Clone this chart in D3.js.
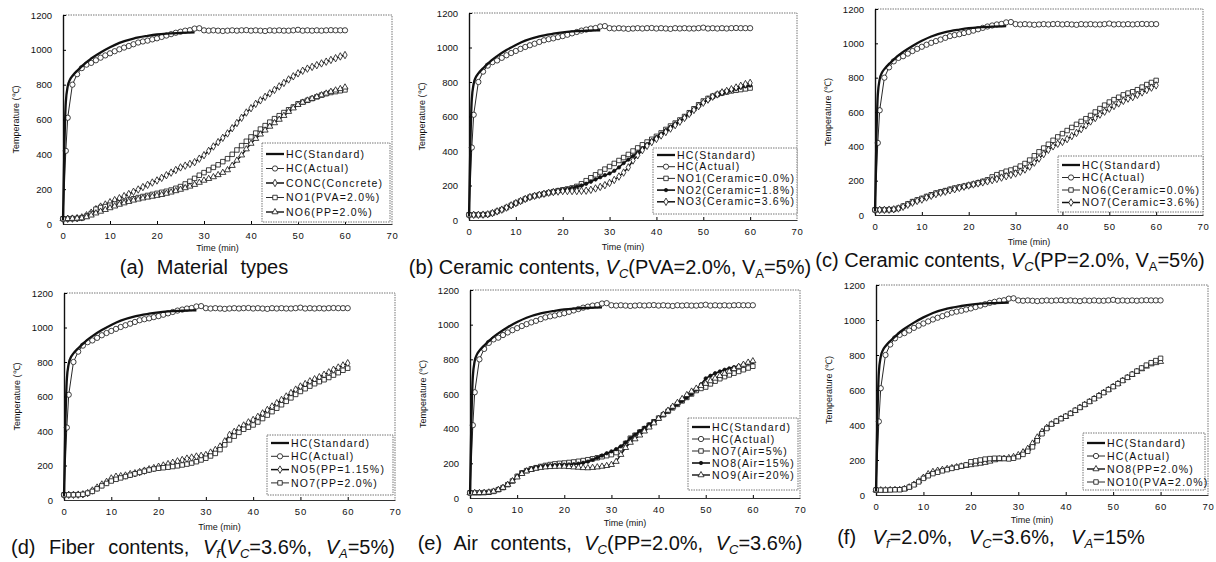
<!DOCTYPE html>
<html>
<head>
<meta charset="utf-8">
<script src="https://cdn.jsdelivr.net/npm/d3@7"></script>
<style>
  body { margin: 0; background: #fff; }
  text { font-family: "Liberation Sans", Arial, sans-serif; fill: #111; }
</style>
</head>
<body>
<svg id="fig" width="1216" height="562"></svg>
<script>
// ---- data ----
const timeTicks = [0, 10, 20, 30, 40, 50, 60, 70];
const tempTicks = [0, 200, 400, 600, 800, 1000, 1200];
const minutes = d3.range(0, 61);

const hcStdTime = [0, 0.3, 0.6, 1, 1.5, 2, 3, 4, 5, 6, 8, 10, 12, 15, 18, 20, 22, 25, 28, 30, 35, 40, 45, 50, 55, 60];
const hcStdTemp = [20, 450, 700, 790, 830, 850, 880, 905, 930, 950, 985, 1015, 1040, 1065, 1080, 1088, 1093, 1097, 1100, 1100, 1100, 1100, 1100, 1100, 1100, 1100];

const hcActTime = [0, 0.6, 1, 2].concat(d3.range(3, 61));
const hcActTemp = [30, 420, 610, 800,
  860, 895, 915, 925, 940, 955, 968, 980, 992, 1003,
  1013, 1022, 1032, 1042, 1048, 1053, 1060, 1066, 1074, 1082,
  1090, 1098, 1104, 1110, 1113, 1122, 1124, 1112, 1110, 1112,
  1110, 1108, 1110, 1112, 1110, 1112, 1113, 1110, 1112, 1110,
  1108, 1112, 1110, 1112, 1110, 1110, 1112, 1115, 1110, 1112,
  1110, 1112, 1110, 1112, 1113, 1112, 1112, 1112];

const aConc = [30, 30, 31, 33, 38, 50, 65, 85, 100, 112,
  125, 137, 148, 160, 172, 185, 198, 212, 225, 238,
  250, 265, 280, 295, 310, 325, 335, 345, 355, 375,
  395, 420, 445, 470, 495, 520, 550, 580, 610, 640,
  665, 690, 710, 730, 750, 770, 790, 810, 830, 848,
  865, 880, 892, 902, 912, 922, 932, 942, 952, 962, 970];
const aNo1 = [30, 30, 31, 32, 35, 45, 60, 85, 95, 100,
  108, 115, 122, 130, 138, 145, 152, 158, 164, 170,
  176, 182, 188, 195, 205, 215, 230, 245, 262, 280,
  295, 310, 325, 340, 358, 375, 400, 425, 450, 475,
  500, 522, 545, 565, 585, 605, 622, 640, 656, 672,
  690, 700, 710, 720, 730, 740, 748, 755, 760, 765, 770];
const aNo6 = [30, 30, 31, 32, 34, 40, 50, 62, 72, 82,
  92, 102, 112, 120, 128, 136, 142, 148, 153, 158,
  163, 168, 175, 182, 190, 198, 207, 216, 226, 238,
  250, 260, 270, 282, 295, 310, 335, 365, 395, 430,
  462, 490, 515, 538, 560, 580, 600, 622, 645, 665,
  685, 698, 710, 720, 730, 740, 750, 760, 768, 776, 785];

const bNo1 = [30, 30, 30, 31, 33, 40, 50, 60, 72, 85,
  98, 110, 122, 133, 140, 146, 152, 158, 164, 170,
  175, 180, 186, 195, 210, 228, 245, 262, 278, 295,
  310, 328, 345, 362, 380, 400, 418, 436, 452, 468,
  485, 505, 525, 545, 562, 580, 600, 622, 645, 668,
  690, 705, 718, 728, 736, 742, 748, 752, 756, 760, 765];
const bNo2 = [30, 30, 30, 31, 33, 40, 50, 60, 72, 85,
  98, 110, 122, 133, 140, 146, 152, 158, 164, 170,
  175, 180, 186, 193, 200, 210, 222, 235, 248, 260,
  270, 285, 305, 330, 350, 370, 392, 415, 438, 460,
  480, 500, 520, 540, 558, 575, 595, 618, 640, 660,
  680, 695, 710, 722, 732, 742, 752, 760, 768, 775, 780];
const bNo3 = [30, 30, 30, 31, 33, 40, 50, 60, 72, 85,
  98, 110, 122, 133, 140, 146, 152, 158, 162, 165,
  168, 168, 168, 168, 169, 170, 175, 183, 192, 202,
  215, 232, 252, 275, 305, 345, 375, 405, 430, 452,
  470, 490, 510, 530, 550, 570, 592, 615, 638, 660,
  680, 698, 715, 728, 740, 748, 758, 768, 778, 788, 795];

const cNo6 = [30, 30, 30, 31, 33, 40, 52, 65, 78, 88,
  97, 108, 118, 128, 135, 142, 150, 157, 163, 168,
  174, 180, 188, 196, 205, 222, 235, 245, 255, 262,
  271, 285, 300, 320, 345, 368, 390, 412, 435, 455,
  474, 492, 510, 528, 545, 561, 580, 600, 620, 640,
  658, 672, 686, 700, 710, 718, 730, 745, 760, 772, 784];
const cNo7 = [30, 30, 30, 31, 33, 38, 48, 60, 72, 82,
  90, 102, 112, 122, 130, 136, 144, 150, 158, 165,
  172, 178, 184, 190, 196, 203, 210, 218, 226, 234,
  242, 252, 265, 282, 305, 329, 355, 380, 400, 415,
  426, 442, 460, 478, 500, 522, 545, 565, 585, 602,
  619, 635, 650, 665, 678, 687, 700, 714, 728, 742, 755];

const dNo5 = [30, 30, 30, 31, 33, 40, 55, 72, 90, 105,
  125, 135, 138, 142, 150, 155, 162, 170, 178, 185,
  193, 200, 208, 216, 224, 232, 240, 246, 252, 256,
  261, 275, 290, 310, 340, 377, 395, 415, 432, 450,
  464, 482, 502, 522, 542, 561, 580, 600, 620, 640,
  658, 672, 688, 700, 712, 726, 740, 755, 768, 780, 793];
const dNo7 = [30, 30, 30, 31, 33, 40, 50, 65, 82, 96,
  110, 120, 128, 136, 144, 152, 160, 167, 174, 180,
  184, 187, 190, 194, 198, 203, 208, 214, 222, 232,
  242, 255, 270, 292, 320, 348, 370, 392, 410, 422,
  435, 452, 472, 492, 512, 532, 552, 572, 592, 612,
  629, 645, 660, 674, 686, 697, 710, 724, 738, 752, 764];

const eNo7 = [30, 30, 30, 31, 33, 38, 48, 60, 77, 98,
  125, 145, 158, 168, 175, 182, 188, 193, 197, 200,
  202, 205, 208, 212, 216, 221, 226, 232, 238, 244,
  250, 262, 285, 315, 345, 362, 380, 400, 420, 440,
  461, 480, 500, 520, 540, 560, 580, 600, 620, 632,
  640, 658, 674, 688, 700, 710, 720, 730, 740, 750, 760];
const eNo8 = [30, 30, 30, 31, 33, 38, 48, 60, 77, 98,
  125, 148, 160, 170, 178, 182, 186, 188, 190, 191,
  192, 193, 195, 198, 203, 210, 220, 232, 245, 258,
  269, 282, 298, 320, 345, 365, 385, 405, 425, 443,
  461, 480, 500, 520, 540, 560, 580, 600, 625, 655,
  690, 705, 720, 730, 740, 748, 755, 762, 770, 778, 785];
const eNo9 = [30, 30, 30, 31, 33, 38, 48, 60, 77, 98,
  120, 140, 155, 163, 170, 175, 178, 180, 181, 182,
  182, 180, 178, 176, 174, 173, 175, 178, 182, 186,
  192, 210, 250, 290, 320, 340, 362, 385, 408, 432,
  458, 482, 505, 528, 550, 572, 595, 615, 632, 648,
  660, 675, 690, 705, 718, 730, 745, 758, 770, 782, 790];

const fNo8 = [28, 28, 28, 29, 30, 30, 35, 45, 60, 80,
  100, 120, 133, 140, 145, 150, 155, 160, 164, 168,
  172, 176, 180, 185, 192, 200, 205, 208, 212, 218,
  229, 245, 265, 295, 330, 362, 385, 405, 420, 435,
  448, 465, 482, 500, 516, 533, 550, 568, 585, 602,
  619, 636, 654, 671, 688, 705, 720, 735, 748, 755, 762];
const fNo10 = [28, 28, 28, 29, 30, 30, 35, 45, 58, 75,
  95, 110, 122, 130, 138, 145, 152, 158, 165, 172,
  190, 195, 200, 205, 208, 210, 210, 208, 206, 210,
  219, 232, 250, 275, 310, 350, 380, 405, 422, 436,
  450, 466, 484, 500, 517, 534, 550, 567, 585, 602,
  619, 636, 654, 672, 690, 708, 726, 742, 756, 768, 781];

const labelsA = ['HC(Standard)', 'HC(Actual)', 'CONC(Concrete)', 'NO1(PVA=2.0%)', 'NO6(PP=2.0%)'];
const labelsB = ['HC(Standard)', 'HC(Actual)', 'NO1(Ceramic=0.0%)', 'NO2(Ceramic=1.8%)', 'NO3(Ceramic=3.6%)'];
const labelsC = ['HC(Standard)', 'HC(Actual)', 'NO6(Ceramic=0.0%)', 'NO7(Ceramic=3.6%)'];
const labelsD = ['HC(Standard)', 'HC(Actual)', 'NO5(PP=1.15%)', 'NO7(PP=2.0%)'];
const labelsE = ['HC(Standard)', 'HC(Actual)', 'NO7(Air=5%)', 'NO8(Air=15%)', 'NO9(Air=20%)'];
const labelsF = ['HC(Standard)', 'HC(Actual)', 'NO8(PP=2.0%)', 'NO10(PVA=2.0%)'];

// caption pieces: [text, style] with style '' | 'i' (italic) | 's' (sub) | 'is' (italic sub)
const titleA = [['(a) Material types', '']];
const titleB = [['(b) Ceramic contents, ', ''], ['V', 'i'], ['C', 'is'], ['(PVA=2.0%, V', ''], ['A', 's'], ['=5%)', '']];
const titleC = [['(c) Ceramic contents, ', ''], ['V', 'i'], ['C', 'is'], ['(PP=2.0%, V', ''], ['A', 's'], ['=5%)', '']];
const titleD = [['(d) Fiber contents, ', ''], ['V', 'i'], ['f', 'is'], ['(', ''], ['V', 'i'], ['C', 'is'], ['=3.6%, ', ''], ['V', 'i'], ['A', 'is'], ['=5%)', '']];
const titleE = [['(e) Air contents, ', ''], ['V', 'i'], ['C', 'is'], ['(PP=2.0%, ', ''], ['V', 'i'], ['C', 'is'], ['=3.6%)', '']];
const titleF = [['(f) ', ''], ['V', 'i'], ['f', 'is'], ['=2.0%, ', ''], ['V', 'i'], ['C', 'is'], ['=3.6%, ', ''], ['V', 'i'], ['A', 'is'], ['=15%', '']];

// ---- styles for the series ----
const styleStd = { marker: null, width: 2.3 };
const styleAct = { marker: 'circle', width: 0.9 };
const styleSquare = { marker: 'square', width: 0.9 };
const styleDiamond = { marker: 'diamond', width: 1.5 };
const styleTriangle = { marker: 'triangle', width: 1.4 };
const styleDot = { marker: 'dot', width: 1.6 };

const panels = [
  { left: 63, right: 392, top: 15, bottom: 224, timeY: 251, titleX: 204, titleY: 274, ws: 7,
    legend: { x: 262, y: 143, w: 128, h: 79, row0: 154, rowH: 14.5 },
    labels: labelsA, title: titleA,
    series: [[aConc, styleDiamond], [aNo1, styleSquare], [aNo6, styleTriangle]] },
  { left: 469, right: 797, top: 13, bottom: 220, timeY: 250, titleX: 610, titleY: 274, ws: 0,
    legend: { x: 653, y: 148, w: 144, h: 66, row0: 155, rowH: 11.7 },
    labels: labelsB, title: titleB,
    series: [[bNo1, styleSquare], [bNo2, styleDot], [bNo3, styleDiamond]] },
  { left: 875, right: 1203, top: 9, bottom: 215, timeY: 245, titleX: 1010, titleY: 267, ws: 0,
    legend: { x: 1058, y: 156, w: 145, h: 56, row0: 165, rowH: 12.5 },
    labels: labelsC, title: titleC,
    series: [[cNo6, styleSquare], [cNo7, styleDiamond]] },
  { left: 64, right: 395, top: 293, bottom: 500, timeY: 530, titleX: 203, titleY: 554, ws: 8,
    legend: { x: 267, y: 435, w: 126, h: 60, row0: 443, rowH: 13.3 },
    labels: labelsD, title: titleD,
    series: [[dNo5, styleDiamond], [dNo7, styleSquare]] },
  { left: 470, right: 800, top: 290, bottom: 498, timeY: 526, titleX: 610, titleY: 550, ws: 7,
    legend: { x: 688, y: 418, w: 110, h: 72, row0: 427, rowH: 12 },
    labels: labelsE, title: titleE,
    series: [[eNo7, styleSquare], [eNo8, styleDot], [eNo9, styleTriangle]] },
  { left: 876, right: 1208, top: 285, bottom: 495, timeY: 523, titleX: 991, titleY: 544, ws: 11,
    legend: { x: 1083, y: 433, w: 122, h: 57, row0: 443, rowH: 13 },
    labels: labelsF, title: titleF,
    series: [[fNo8, styleTriangle], [fNo10, styleSquare]] },
];

const svg = d3.select('#fig');

const symbolFor = {
  circle: d3.symbol(d3.symbolCircle, 22),
  square: d3.symbol(d3.symbolSquare, 20),
  diamond: d3.symbol(d3.symbolDiamond, 16),
  triangle: d3.symbol(d3.symbolTriangle, 16),
  dot: d3.symbol(d3.symbolCircle, 9),
};

function drawMarkers(g, pts, style) {
  if (!style.marker) return;
  g.selectAll(null)
    .data(pts)
    .join('path')
    .attr('transform', (d) => `translate(${d[0]},${d[1]})`)
    .attr('d', symbolFor[style.marker]())
    .attr('fill', style.marker === 'dot' ? '#111' : '#fff')
    .attr('stroke', '#111')
    .attr('stroke-width', 0.8);
}

function drawPanel(p) {
  const g = svg.append('g');
  const x = d3.scaleLinear().domain([0, 70]).range([p.left, p.right]);
  const y = d3.scaleLinear().domain([0, 1200]).range([p.bottom, p.top]);

  // dotted plot-area border (top and right)
  g.append('path')
    .attr('d', `M${x(0)},${y(1200)}H${x(70)}V${y(0)}`)
    .attr('fill', 'none')
    .attr('stroke', '#777')
    .attr('stroke-width', 1)
    .attr('stroke-dasharray', '1.5,1');

  const leftAxis = d3.axisLeft(y).tickValues(tempTicks).tickFormat(d3.format('d'))
    .tickSizeInner(-3).tickSizeOuter(0).tickPadding(11);
  const ya = g.append('g').attr('transform', `translate(${x(0)},0)`).call(leftAxis);
  ya.attr('font-family', null).attr('font-size', 9.5);
  ya.select('.domain').attr('stroke', '#111').attr('stroke-width', 1.4);

  const bottomAxis = d3.axisBottom(x).tickValues(timeTicks).tickFormat(d3.format('d'))
    .tickSizeInner(-3).tickSizeOuter(0).tickPadding(8);
  const xa = g.append('g').attr('transform', `translate(0,${y(0)})`).call(bottomAxis);
  xa.attr('font-family', null).attr('font-size', 9.5).attr('letter-spacing', 0.8);
  xa.select('.domain').attr('stroke', '#333').attr('stroke-width', 1);
  xa.selectAll('.tick line').filter((d) => d === 0 || d === 70).remove();

  g.append('text')
    .attr('x', (p.left + p.right) / 2 - 10)
    .attr('y', p.timeY)
    .attr('text-anchor', 'middle')
    .attr('font-size', 9)
    .text('Time (min)');

  g.append('text')
    .attr('transform', `translate(${p.left - 44},${(p.top + p.bottom) / 2}) rotate(-90)`)
    .attr('text-anchor', 'middle')
    .attr('font-size', 9)
    .text('Temperature (℃)');

  const line = d3.line().x((d) => d[0]).y((d) => d[1]);
  const smooth = d3.line().x((d) => d[0]).y((d) => d[1]).curve(d3.curveMonotoneX);

  // specimen curves
  p.series.forEach(([vals, style]) => {
    const pts = minutes.map((t, i) => [x(t), y(vals[i])]);
    g.append('path').attr('d', line(pts)).attr('fill', 'none')
      .attr('stroke', '#111').attr('stroke-width', style.width);
    drawMarkers(g.append('g'), pts, style);
  });

  // furnace curves
  const actPts = hcActTime.map((t, i) => [x(t), y(hcActTemp[i])]);
  g.append('path').attr('d', line(actPts)).attr('fill', 'none')
    .attr('stroke', '#111').attr('stroke-width', styleAct.width);
  drawMarkers(g.append('g'), actPts, styleAct);

  const stdPts = hcStdTime.map((t, i) => [x(t), y(hcStdTemp[i])]);
  g.append('path').attr('d', smooth(stdPts.filter((d, i) => hcStdTime[i] <= 28))).attr('fill', 'none')
    .attr('stroke', '#111').attr('stroke-width', styleStd.width);

  // legend
  const L = p.legend;
  const lg = g.append('g');
  lg.append('rect')
    .attr('x', L.x).attr('y', L.y).attr('width', L.w).attr('height', L.h)
    .attr('fill', '#fff').attr('stroke', '#777').attr('stroke-width', 1)
    .attr('stroke-dasharray', '1.5,1');
  const styles = [styleStd, styleAct].concat(p.series.map((s) => s[1]));
  p.labels.forEach((lab, i) => {
    const ry = L.row0 + i * L.rowH;
    const st = styles[i];
    lg.append('line')
      .attr('x1', L.x + 4).attr('x2', L.x + 22).attr('y1', ry).attr('y2', ry)
      .attr('stroke', '#111').attr('stroke-width', st.width);
    drawMarkers(lg.append('g'), [[L.x + 13, ry]], st);
    lg.append('text')
      .attr('x', L.x + 24).attr('y', ry)
      .attr('dy', '0.35em')
      .attr('font-size', 10.5)
      .attr('letter-spacing', 1.2)
      .text(lab);
  });

  // caption
  const cap = svg.append('text')
    .attr('x', p.titleX).attr('y', p.titleY)
    .attr('text-anchor', 'middle')
    .attr('font-size', 20)
    .attr('word-spacing', p.ws);
  let shifted = false;
  p.title.forEach(([txt, st]) => {
    const isSub = st.includes('s');
    const ts = cap.append('tspan').text(txt);
    if (st.includes('i')) ts.attr('font-style', 'italic');
    if (isSub) ts.attr('font-size', 13);
    if (isSub && !shifted) { ts.attr('dy', 4); shifted = true; }
    else if (!isSub && shifted) { ts.attr('dy', -4); shifted = false; }
  });
}

panels.forEach(drawPanel);
</script>
</body>
</html>
